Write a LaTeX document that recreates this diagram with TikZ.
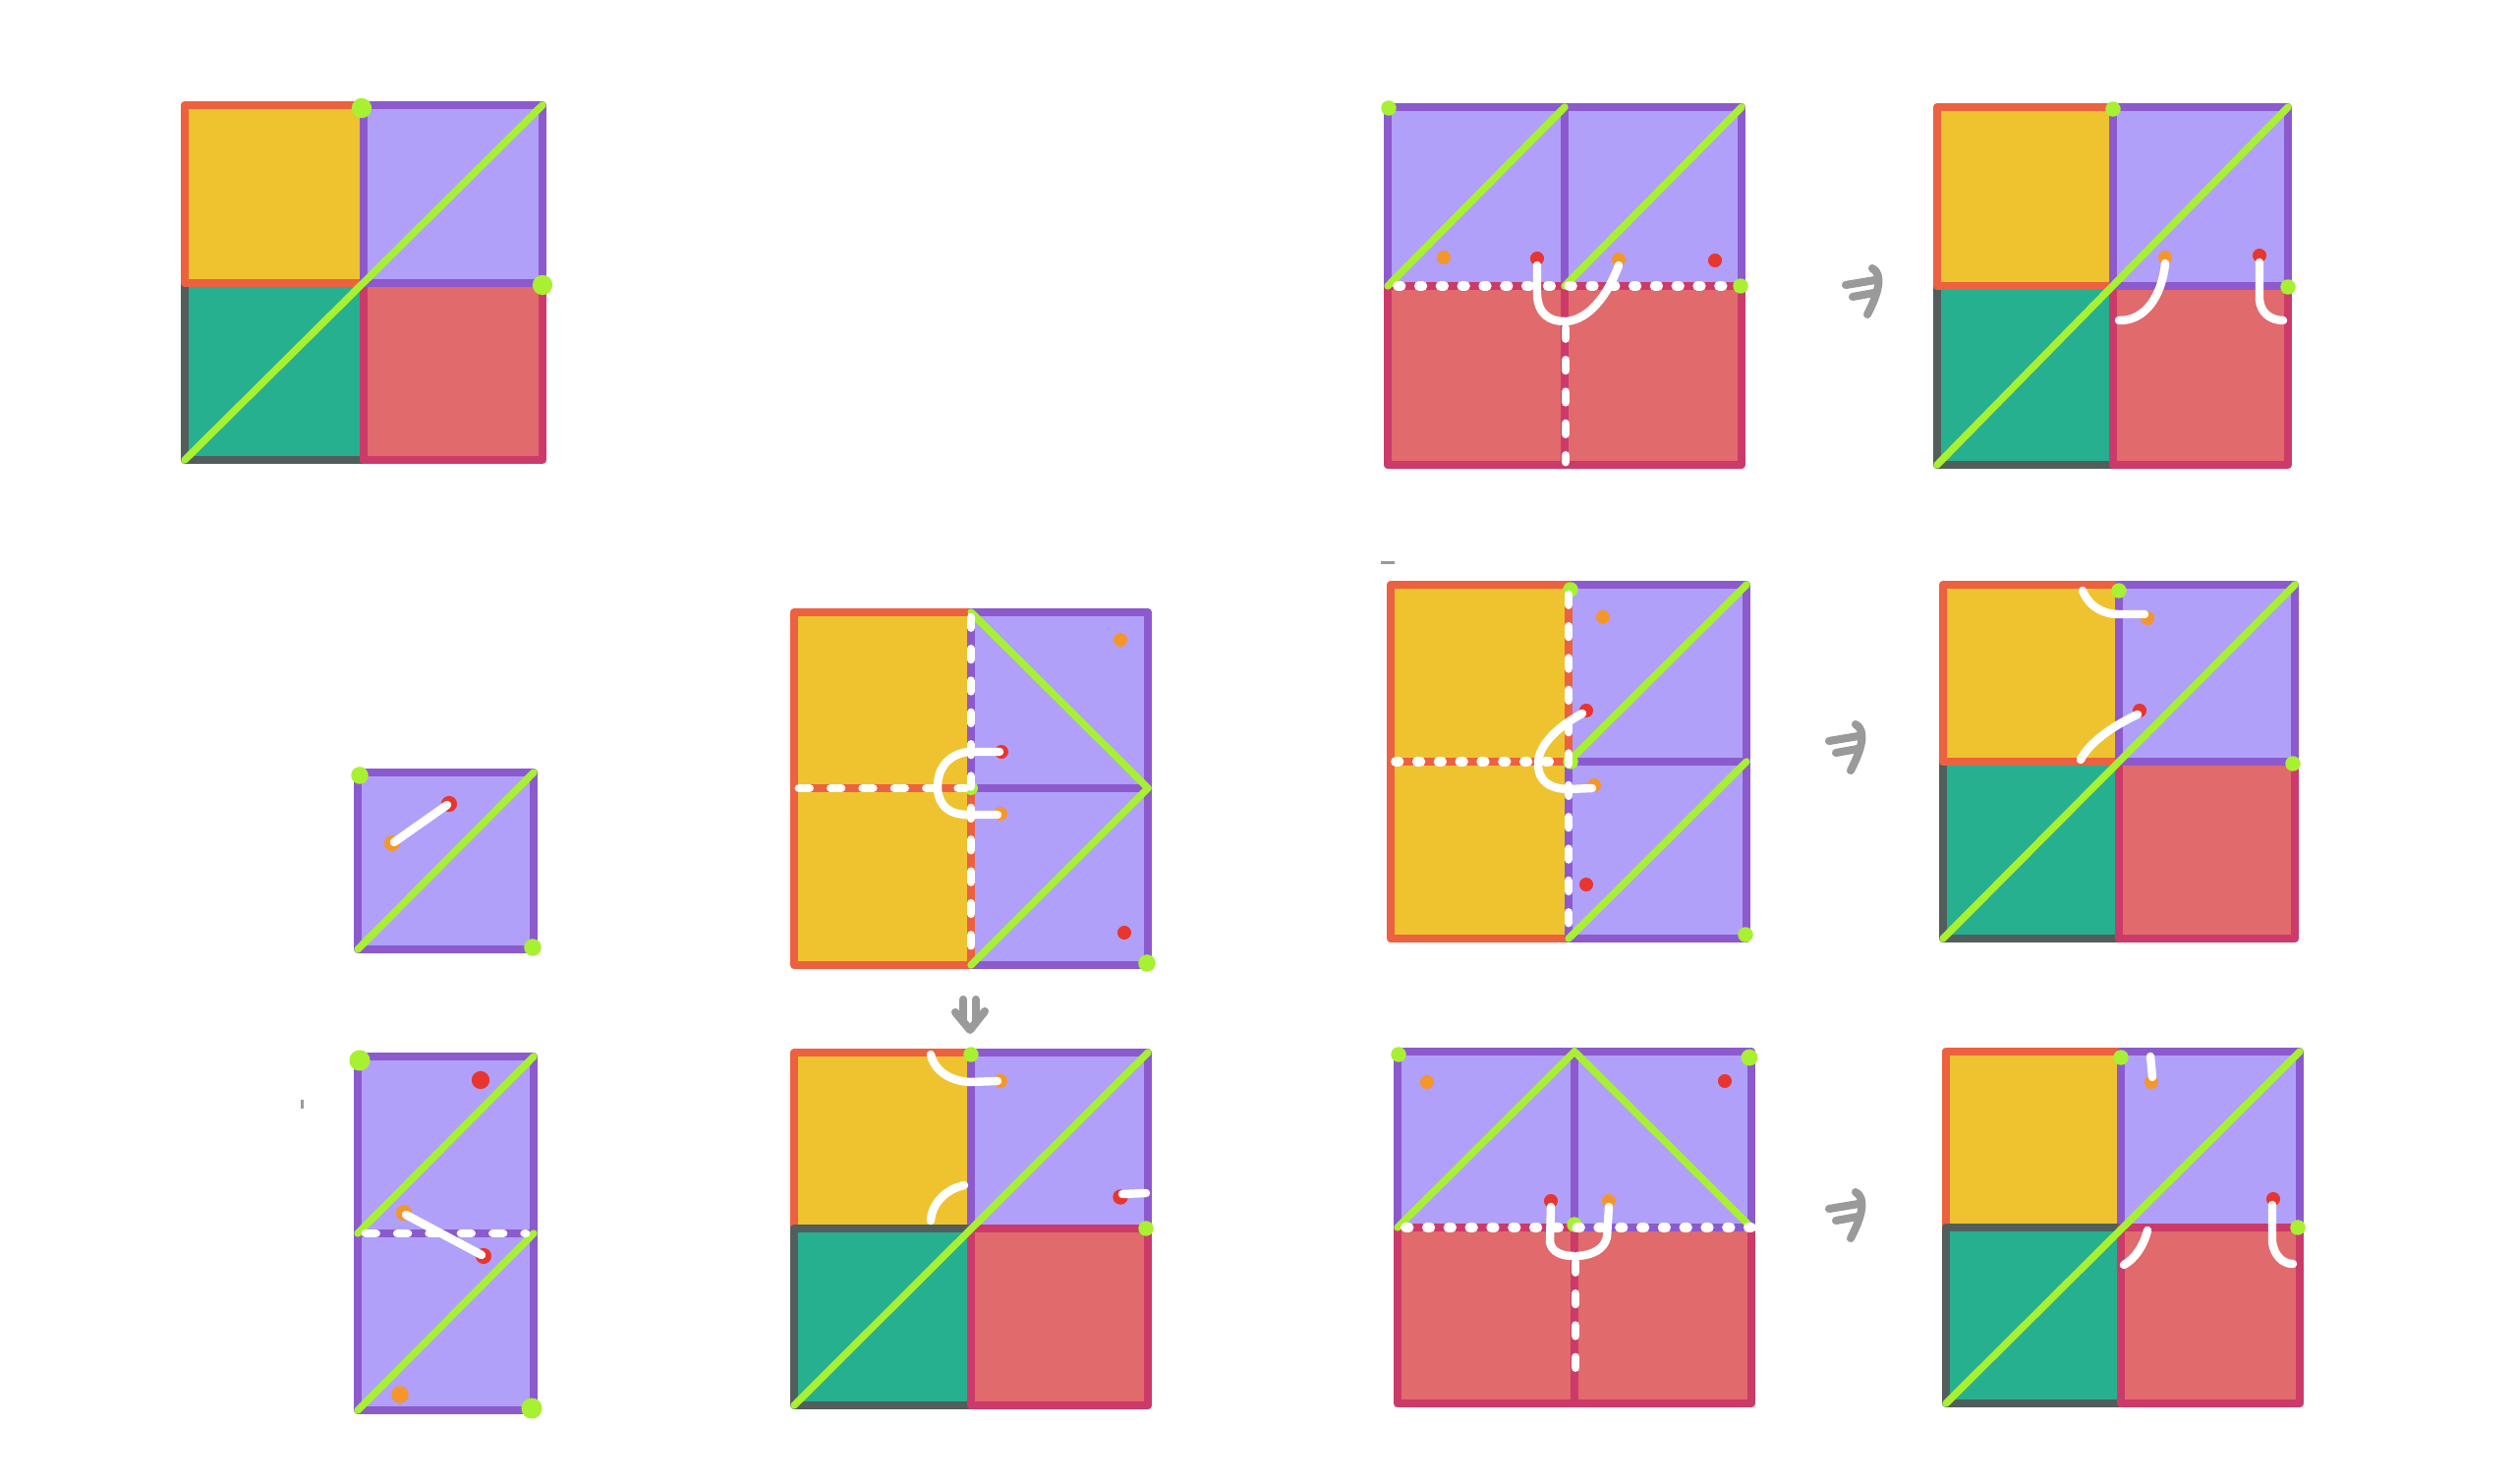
\documentclass[tikz,border=0pt]{standalone}
\definecolor{cyel}{HTML}{EFC330}
\definecolor{cyelb}{HTML}{EC6140}
\definecolor{cpur}{HTML}{B0A0FA}
\definecolor{cpurb}{HTML}{8C5ACD}
\definecolor{ctea}{HTML}{27B08F}
\definecolor{cteab}{HTML}{525E5C}
\definecolor{cred}{HTML}{E16A6C}
\definecolor{credb}{HTML}{CC3A6A}
\definecolor{clime}{HTML}{A8F032}
\definecolor{cor}{HTML}{F5962A}
\definecolor{crd}{HTML}{E8352F}
\definecolor{cgr}{HTML}{9A9A9A}
\begin{document}
\begin{tikzpicture}[x=0.01cm,y=-0.01cm,
    yelcell/.style={fill=cyel,draw=cyelb,line width=2.4pt,line join=round},
    purcell/.style={fill=cpur,draw=cpurb,line width=2.4pt,line join=round},
    teacell/.style={fill=ctea,draw=cteab,line width=2.4pt,line join=round},
    redcell/.style={fill=cred,draw=credb,line width=2.4pt,line join=round},
    diag/.style={draw=clime,line width=2.1pt,line cap=round},
    wline/.style={draw=white,line width=2.4pt,line cap=round},
    wdots/.style={draw=white,line width=2.8pt,line cap=round,dash pattern=on 1pt off 5.2pt},
    wdash/.style={draw=white,line width=2.5pt,line cap=round,dash pattern=on 3pt off 6.2pt},
    hand/.style={draw=cgr,line width=2.3pt,line cap=round,line join=round}]

  \useasboundingbox[fill=white] (0,0) rectangle (2560,1510);

  % A
  \path[teacell] (188,288) rectangle (370,468);
  \path[redcell] (370,288) rectangle (552,468);
  \path[yelcell] (188,107) rectangle (370,288);
  \path[purcell] (370,107) rectangle (552,288);
  \path[diag] (188,468) -- (552,107);
  \fill[clime] (368,110) circle (2.9pt);
  \fill[clime] (552,290) circle (2.9pt);

  % B1
  \path[purcell] (1412,109) rectangle (1592,291);
  \path[purcell] (1592,109) rectangle (1772,291);
  \path[redcell] (1412,291) rectangle (1592,473);
  \path[redcell] (1592,291) rectangle (1772,473);
  \path[diag] (1412,291) -- (1592,109);
  \path[diag] (1592,291) -- (1772,109);
  \fill[clime] (1413,110) circle (2.2pt);
  \fill[clime] (1771,291) circle (2.2pt);
  \fill[cor] (1469,262) circle (2pt);
  \fill[cor] (1647,264) circle (2pt);
  \fill[crd] (1564,263) circle (2pt);
  \fill[crd] (1745,265) circle (2pt);
  \path[wdots] (1422,291) -- (1764,291);
  \path[wdash] (1593,334) -- (1593,470);
  \path[wline] (1564,270) -- (1564,300) .. controls (1565,320) and (1577,327) .. (1592,327);
  \path[wline] (1647,270) .. controls (1636,300) and (1617,325) .. (1594,327);

  \begin{scope}[shift={(1900,297)}]
    \path[hand] (-22,-7) -- (8,-12);
    \path[hand] (-15,5) -- (7,1);
    \path[hand] (5,-24) .. controls (16,-18) and (12,0) .. (0,23);
  \end{scope}

  % B2
  \path[teacell] (1971,291) rectangle (2150,473);
  \path[redcell] (2150,291) rectangle (2328,473);
  \path[yelcell] (1971,109) rectangle (2150,291);
  \path[purcell] (2150,109) rectangle (2328,291);
  \path[diag] (1971,473) -- (2328,109);
  \fill[clime] (2150,111) circle (2.2pt);
  \fill[clime] (2328,292) circle (2.2pt);
  \fill[cor] (2203,262) circle (2pt);
  \fill[crd] (2299,260) circle (2pt);
  \path[wline] (2203,268) .. controls (2200,300) and (2183,327) .. (2156,326);
  \path[wline] (2299,267) -- (2299,305) .. controls (2300,318) and (2310,326) .. (2323,326);

  % C1
  \path[purcell] (364,786) rectangle (543,966);
  \path[diag] (364,966) -- (543,786);
  \fill[clime] (366,789) circle (2.5pt);
  \fill[clime] (542,964) circle (2.5pt);
  \fill[cor] (399,858) circle (2.3pt);
  \fill[crd] (457,818) circle (2.3pt);
  \path[wline] (401,857) -- (455,819);

  % C2
  \path[purcell] (364,1075) rectangle (543,1255);
  \path[purcell] (364,1255) rectangle (543,1435);
  \path[diag] (364,1255) -- (543,1075);
  \path[diag] (364,1435) -- (543,1255);
  \fill[clime] (366,1079) circle (3pt);
  \fill[clime] (541,1433) circle (3pt);
  \fill[crd] (489,1099) circle (2.6pt);
  \fill[cor] (407,1419) circle (2.5pt);
  \fill[cor] (411,1234) circle (2.3pt);
  \fill[crd] (492,1278) circle (2.3pt);
  \path[wdash] (372,1255) -- (535,1255);
  \path[wline] (413,1236) -- (490,1277);
  \fill[cgr] (306,1119) rectangle (309,1128);

  % D1
  \path[yelcell] (808,623) rectangle (988,802);
  \path[purcell] (988,623) rectangle (1168,802);
  \path[purcell] (988,802) rectangle (1168,982);
  \path[yelcell] (808,802) rectangle (988,982);
  \path[diag] (988,623) -- (1168,802);
  \path[diag] (988,982) -- (1168,802);
  \fill[clime] (988,802) circle (2pt);
  \fill[clime] (1167,980) circle (2.5pt);
  \fill[cor] (1140,651) circle (2pt);
  \fill[crd] (1144,949) circle (2pt);
  \fill[crd] (1019,765) circle (2pt);
  \fill[cor] (1018,828) circle (2pt);
  \path[wdash] (988,628) -- (988,978);
  \path[wdash] (813,802) -- (982,802);
  \path[wline] (1017,765) -- (985,765) .. controls (962,768) and (954,785) .. (954,800)
    .. controls (954,818) and (964,829) .. (985,829) -- (1015,829);

  \begin{scope}[shift={(987,1030)}]
    \path[hand] (-7,-13) -- (-7,10);
    \path[hand] (6,-13) -- (6,10);
    \path[hand] (-15,0) -- (0,18) -- (15,-1);
  \end{scope}

  % D2
  \path[yelcell] (808,1071) rectangle (988,1250);
  \path[purcell] (988,1071) rectangle (1168,1250);
  \path[teacell] (808,1250) rectangle (988,1430);
  \path[redcell] (988,1250) rectangle (1168,1430);
  \path[diag] (808,1430) -- (1168,1071);
  \fill[clime] (988,1073) circle (2.2pt);
  \fill[clime] (1166,1250) circle (2.2pt);
  \fill[cor] (1018,1100) circle (2pt);
  \fill[crd] (1140,1218) circle (2.2pt);
  \path[wline] (947,1073) .. controls (951,1090) and (967,1100) .. (987,1101) -- (1015,1100);
  \path[wline] (947,1242) .. controls (948,1225) and (962,1210) .. (981,1206);
  \path[wline] (1142,1215) -- (1166,1214);

  % E1
  \path[purcell] (1596,595) rectangle (1777,775);
  \path[yelcell] (1415,595) rectangle (1596,775);
  \path[yelcell] (1415,775) rectangle (1596,955);
  \path[purcell] (1596,775) rectangle (1777,955);
  \path[diag] (1596,775) -- (1777,595);
  \path[diag] (1596,955) -- (1777,775);
  \fill[clime] (1598,600) circle (2.2pt);
  \fill[clime] (1598,775) circle (2.2pt);
  \fill[clime] (1776,951) circle (2.2pt);
  \fill[cor] (1631,628) circle (2pt);
  \fill[crd] (1614,723) circle (2pt);
  \fill[cor] (1622,799) circle (2pt);
  \fill[crd] (1614,900) circle (2pt);
  \path[wdash] (1596,605) -- (1596,952);
  \path[wdots] (1420,775) -- (1593,775);
  \path[wline] (1610,726) .. controls (1582,741) and (1565,760) .. (1565,777)
    .. controls (1565,795) and (1577,803) .. (1597,803) -- (1620,802);
  \fill[cgr] (1405,571) rectangle (1419,574);

  \begin{scope}[shift={(1883,761)}]
    \path[hand] (-22,-7) -- (8,-12);
    \path[hand] (-15,5) -- (7,1);
    \path[hand] (5,-24) .. controls (16,-18) and (12,0) .. (0,23);
  \end{scope}

  % E2
  \path[teacell] (1977,775) rectangle (2156,955);
  \path[redcell] (2156,775) rectangle (2335,955);
  \path[yelcell] (1977,595) rectangle (2156,775);
  \path[purcell] (2156,595) rectangle (2335,775);
  \path[diag] (1977,955) -- (2335,595);
  \fill[clime] (2156,601) circle (2.2pt);
  \fill[clime] (2333,777) circle (2.2pt);
  \fill[cor] (2185,629) circle (2pt);
  \fill[crd] (2177,723) circle (2pt);
  \path[wline] (2119,601) .. controls (2126,618) and (2141,625) .. (2155,625) -- (2182,625);
  \path[wline] (2175,727) .. controls (2151,738) and (2126,755) .. (2117,773);

  % F1
  \path[purcell] (1422,1070) rectangle (1602,1249);
  \path[redcell] (1422,1249) rectangle (1602,1428);
  \path[redcell] (1602,1249) rectangle (1782,1428);
  \path[purcell] (1602,1070) rectangle (1782,1249);
  \path[diag] (1422,1249) -- (1602,1070) -- (1782,1249);
  \fill[clime] (1423,1073) circle (2.2pt);
  \fill[clime] (1780,1076) circle (2.4pt);
  \fill[clime] (1602,1246) circle (2.2pt);
  \fill[cor] (1452,1101) circle (2pt);
  \fill[crd] (1755,1100) circle (2pt);
  \fill[crd] (1578,1222) circle (2pt);
  \fill[cor] (1637,1222) circle (2pt);
  \path[wdots] (1430,1249) -- (1782,1249);
  \path[wdash] (1603,1284) -- (1603,1411);
  \path[wline] (1578,1228) -- (1577,1264) .. controls (1579,1274) and (1589,1278) .. (1601,1278);
  \path[wline] (1637,1228) -- (1635,1259) .. controls (1632,1271) and (1621,1277) .. (1605,1278);

  \begin{scope}[shift={(1883,1237)}]
    \path[hand] (-22,-7) -- (8,-12);
    \path[hand] (-15,5) -- (7,1);
    \path[hand] (5,-24) .. controls (16,-18) and (12,0) .. (0,23);
  \end{scope}

  % F2
  \path[yelcell] (1980,1070) rectangle (2158,1249);
  \path[purcell] (2158,1070) rectangle (2340,1249);
  \path[teacell] (1980,1249) rectangle (2158,1428);
  \path[redcell] (2158,1249) rectangle (2340,1428);
  \path[diag] (1980,1428) -- (2340,1070);
  \fill[clime] (2158,1076) circle (2.2pt);
  \fill[clime] (2338,1249) circle (2.2pt);
  \fill[cor] (2189,1101) circle (2pt);
  \fill[crd] (2313,1220) circle (2pt);
  \path[wline] (2188,1075) -- (2190,1096);
  \path[wline] (2185,1252) .. controls (2181,1268) and (2172,1281) .. (2161,1287);
  \path[wline] (2312,1226) -- (2312,1264) .. controls (2314,1277) and (2322,1286) .. (2333,1286);

\end{tikzpicture}
\end{document}
